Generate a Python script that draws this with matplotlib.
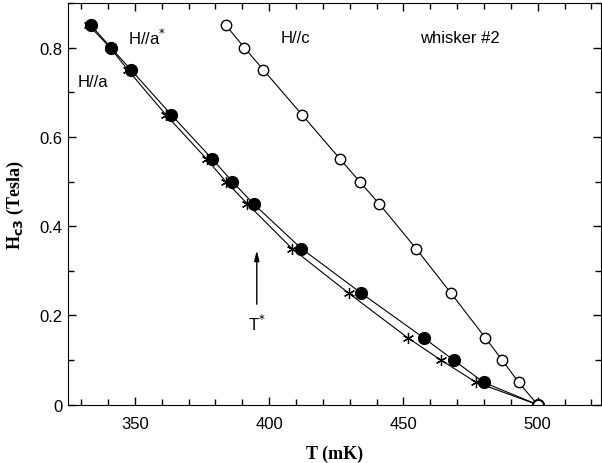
import numpy as np
import matplotlib
matplotlib.use('Agg')
import matplotlib.pyplot as plt
from matplotlib.ticker import MultipleLocator

# H//a* (filled circles)
T_astar = [333.7, 341.1, 348.6, 363.5, 378.9, 386.3, 394.2, 412.0, 434.3, 457.5, 468.7, 479.9, 500.0]
H_astar = [0.85, 0.80, 0.75, 0.65, 0.55, 0.50, 0.45, 0.35, 0.25, 0.15, 0.10, 0.05, 0.0]

# H//a (stars)
T_a = [332.9, 340.8, 347.4, 361.5, 376.8, 383.9, 391.9, 408.5, 429.6, 451.6, 464.0, 477.1, 500.0]
H_a = [0.85, 0.80, 0.75, 0.65, 0.55, 0.50, 0.45, 0.35, 0.25, 0.15, 0.10, 0.05, 0.0]

# H//c (open circles)
T_c = [383.9, 390.8, 397.9, 412.2, 426.5, 433.7, 441.0, 454.7, 467.7, 480.5, 486.8, 492.9, 500.0]
H_c = [0.85, 0.80, 0.75, 0.65, 0.55, 0.50, 0.45, 0.35, 0.25, 0.15, 0.10, 0.05, 0.0]

T_star = 395.4

plt.rcParams['font.family'] = ['Liberation Sans', 'DejaVu Sans']

fig = plt.figure(figsize=(6.02, 4.64), dpi=100)
ax = fig.add_axes([0.1125, 0.1256, 0.8855, 0.8657])

ax.plot(T_a, H_a, color='black', linewidth=0.8, marker=(6, 2, 0), markersize=8,
        markeredgewidth=0.9)
ax.plot(T_astar, H_astar, color='black', linewidth=0.8, marker='o', markersize=8.5)
ax.plot(T_c, H_c, color='black', linewidth=0.8, marker='o', markersize=7.5,
        markerfacecolor='white', markeredgewidth=1.0)

ax.annotate('', xy=(T_star, 0.352), xytext=(T_star, 0.219),
            arrowprops=dict(arrowstyle='-|>,head_length=0.6,head_width=0.15',
                            color='black', lw=1.0))
ax.text(T_star, 0.183, r'T$^{*}$', ha='center', va='center', fontsize=12)

ax.text(347.5, 0.823, r'H//a$^{*}$', ha='left', va='center', fontsize=12)
ax.text(328.8, 0.725, 'H//a', ha='left', va='center', fontsize=12)
ax.text(404.2, 0.823, 'H//c', ha='left', va='center', fontsize=12)
ax.text(456.3, 0.823, 'whisker #2', ha='left', va='center', fontsize=12)

ax.set_xlim(325, 523.5)
ax.set_ylim(0, 0.9)
ax.set_xticks([350, 400, 450, 500])
ax.set_yticks([0, 0.2, 0.4, 0.6, 0.8])
ax.set_yticklabels(['0', '0.2', '0.4', '0.6', '0.8'])
ax.xaxis.set_minor_locator(MultipleLocator(10))
ax.yaxis.set_minor_locator(MultipleLocator(0.1))
ax.tick_params(which='both', direction='in', top=True, right=True, labelsize=12)
ax.tick_params(which='major', length=6, width=1)
ax.tick_params(which='minor', length=4, width=1)
ax.tick_params(axis='x', pad=8)

ax.set_xlabel('T (mK)', fontsize=13, fontweight='bold', family='Liberation Serif', labelpad=10)
ax.set_ylabel(r'H$_{\mathbf{c3}}$ (Tesla)', fontsize=13, fontweight='bold',
              family='Liberation Serif', labelpad=10)

fig.savefig('out.png', dpi=100)
